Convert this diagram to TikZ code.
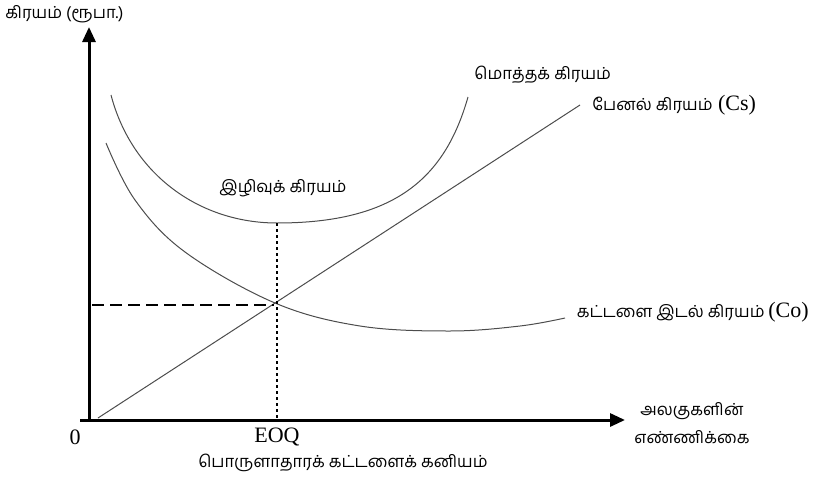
\documentclass[tikz,border=0pt]{standalone}
\usepackage{fontspec}
\setmainfont{Liberation Serif}
\newfontfamily\tamil[Script=Tamil]{Hind Madurai}
\usetikzlibrary{arrows.meta}
\newcommand{\tml}[1]{{\tamil\fontsize{8.3}{10}\selectfont #1}}

\begin{document}
\begin{tikzpicture}[x=0.5pt, y=-0.5pt, every node/.style={font=\fontsize{11}{13}\selectfont, inner sep=1pt},
  axis/.style={line width=1.5pt, -{Triangle[length=7.5pt,width=6.5pt]}},
  curve/.style={line width=0.5pt, black!70}]
\useasboundingbox (0,0) rectangle (815,477);
\coordinate (o) at (89,420);
\coordinate (ys) at (89,421.5);
\coordinate (yt) at (89,27);
\coordinate (xs) at (80,420);
\coordinate (xt) at (625,420);
\draw[axis] (ys) -- (yt);
\draw[axis] (xs) -- (xt);
\coordinate (cs0) at (98,418);
\coordinate (cs1) at (580,105);
\draw[curve] (cs0) -- (cs1);
\coordinate (tc0) at (111,95);
\coordinate (b) at (277,223);
\coordinate (tc1) at (468,97);
\draw[curve] (tc0) .. controls (132,175) and (200,223) .. (b)
  .. controls (395,223) and (445,178) .. (tc1);
\draw[curve] plot[smooth, tension=0.6] coordinates {(106,143) (135,200) (185,252) (275,303) (360,326) (450,331) (520,326) (565,318)};
\coordinate (e) at (274,305);
\coordinate (h) at (92,305);
\draw[line width=1pt, dash pattern=on 6pt off 3pt] (h) -- (e);
\draw[line width=0.8pt, dash pattern=on 1.5pt off 1.5pt] (b) -- (b |- o);
\node[anchor=west] (ylab) at (3,14) {\tml{கிரயம் (ரூபா.)}};
\node (zero) at (75,437) {0};
\node (eoq) at (277,437) {EOQ};
\node (eoqlab) at (343,463) {\tml{பொருளாதாரக் கட்டளைக் கனியம்}};
\node[align=center] (xlab) at (692,423) {\tml{அலகுகளின்}\\[1pt]\tml{எண்ணிக்கை}};
\node[anchor=west] (tclab) at (472,75) {\tml{மொத்தக் கிரயம்}};
\node[anchor=west] (cslab) at (590,105) {\tml{பேனல் கிரயம்} (Cs)};
\node (minlab) at (283,188) {\tml{இழிவுக் கிரயம்}};
\node[anchor=east] (colab) at (811,312) {\tml{கட்டளை இடல் கிரயம்}\,(Co)};
\end{tikzpicture}
\end{document}
